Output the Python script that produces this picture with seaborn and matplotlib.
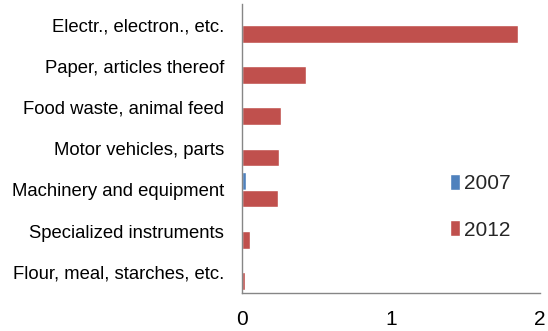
import matplotlib
matplotlib.use("Agg")
import matplotlib.pyplot as plt
import seaborn as sns
import pandas as pd

categories = ["Electr., electron., etc.", "Paper, articles thereof", "Food waste, animal feed",
              "Motor vehicles, parts", "Machinery and equipment", "Specialized instruments",
              "Flour, meal, starches, etc."]
years = ["2007", "2012"]
values_2007 = [0.0, 0.0, 0.0, 0.0, 0.025, 0.0, 0.0]
values_2012 = [1.855, 0.43, 0.26, 0.245, 0.243, 0.054, 0.022]
xticks = [0, 1, 2]

df = pd.DataFrame({
    "category": categories * 2,
    "year": [years[0]] * len(categories) + [years[1]] * len(categories),
    "value": values_2007 + values_2012,
})

sns.set_theme(style="white")
plt.rcParams["font.family"] = ["Liberation Sans", "DejaVu Sans"]

fig = plt.figure(figsize=(5.48, 3.31), dpi=100)
ax = fig.add_axes([0.4416, 0.1148, 0.544, 0.872])
sns.barplot(data=df, y="category", x="value", hue="year", hue_order=years,
            order=categories, orient="h", palette=["#4F81BD", "#C0504D"],
            width=0.85, saturation=1, ax=ax, legend=True)

ax.set_xlim(0, 2)
ax.set_xticks(xticks)
ax.set_xticklabels([str(t) for t in xticks], fontsize=15)
ax.set_xlabel("")
ax.set_ylabel("")
ax.tick_params(axis="y", labelsize=13.3, length=0, pad=13, colors="#000000")
ax.tick_params(axis="x", length=0, pad=12, colors="#000000")
for s in ["top", "right"]:
    ax.spines[s].set_visible(False)
for s in ["left", "bottom"]:
    ax.spines[s].set_color("#868686")
    ax.spines[s].set_linewidth(1)

handles, labels = ax.get_legend_handles_labels()
ax.get_legend().remove()
fig.legend(handles, labels, loc="center left", bbox_to_anchor=(0.821, 0.375),
           frameon=False, fontsize=15, handlelength=0.5, handleheight=0.8,
           handletextpad=0.2, labelspacing=1.3, borderpad=0, borderaxespad=0)

fig.savefig("out.png", dpi=100)
